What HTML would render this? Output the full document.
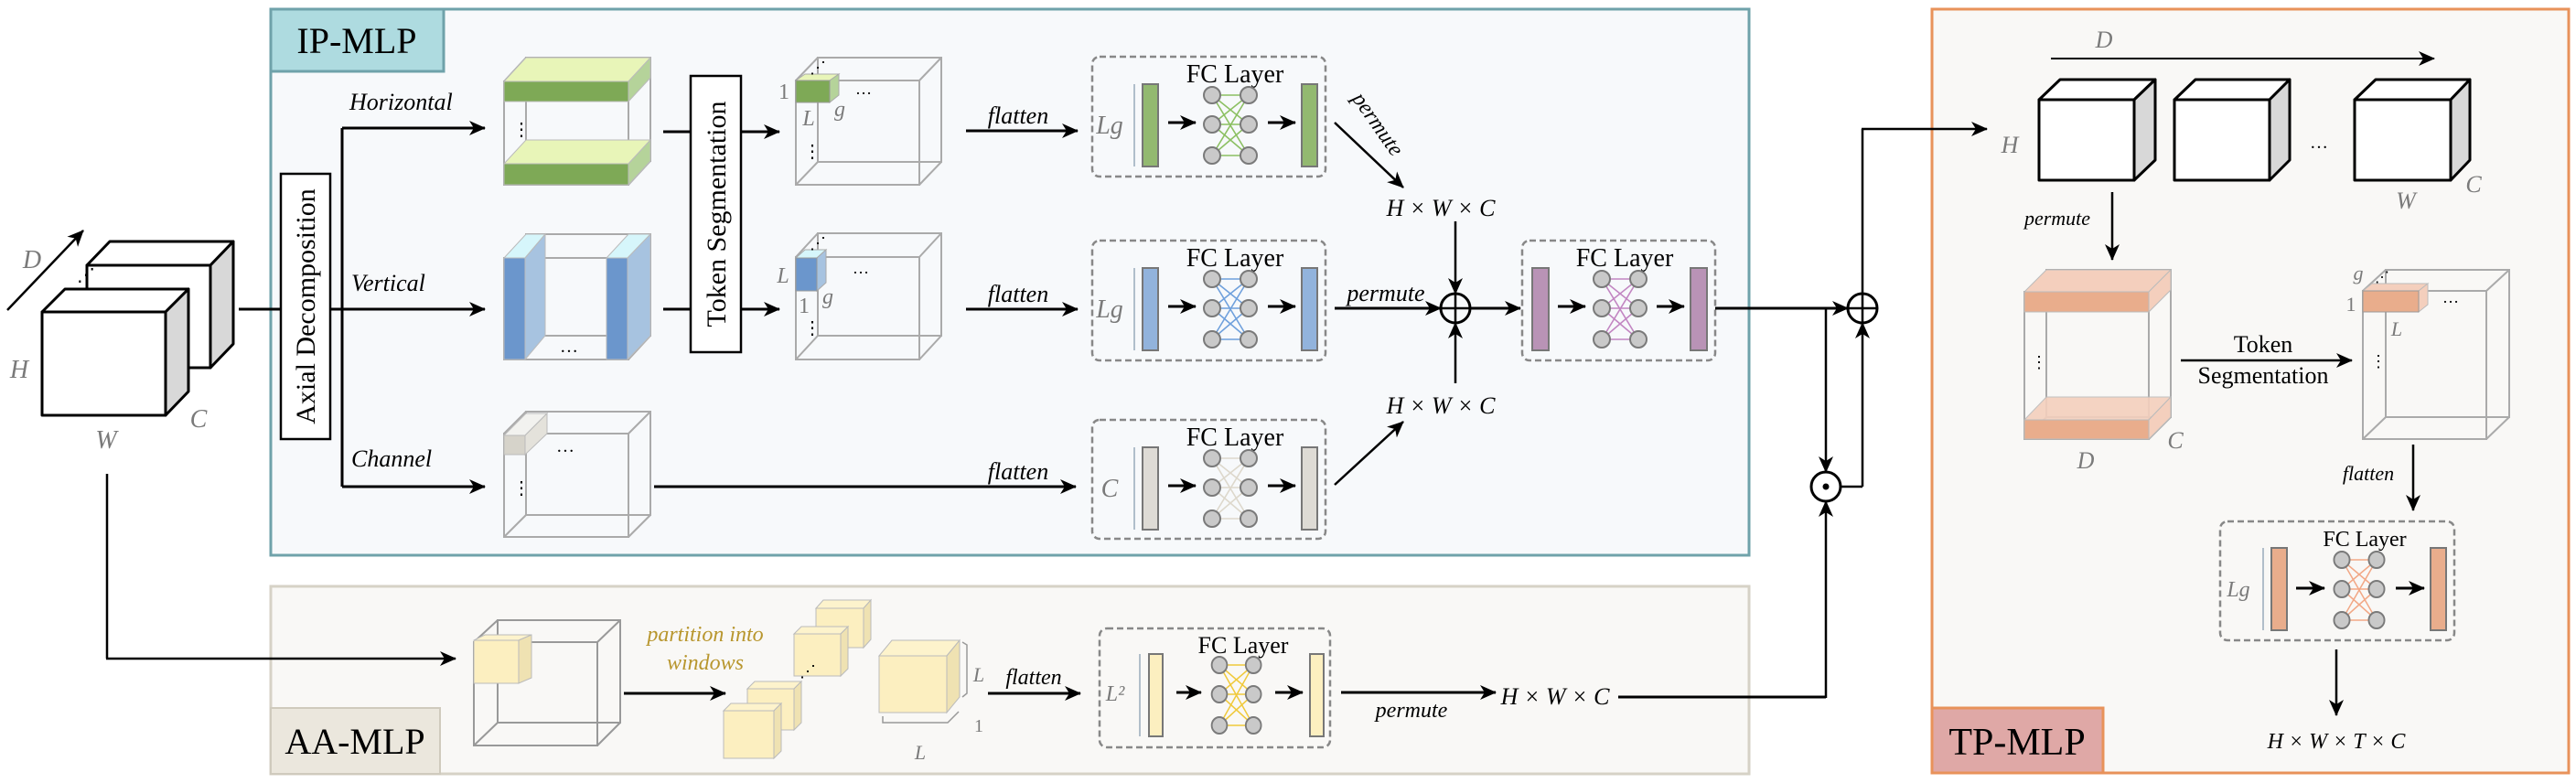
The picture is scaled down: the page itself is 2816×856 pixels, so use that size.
<!DOCTYPE html>
<html><head><meta charset="utf-8"><style>
html,body{margin:0;padding:0;background:#fff}
svg{display:block}
text{font-family:"Liberation Serif",serif}
.it{font-style:italic}
.g{fill:#7a7a7a}
</style></head><body>
<svg width="2816" height="856" viewBox="0 0 2816 856" xmlns="http://www.w3.org/2000/svg">
<defs>
<marker id="a" markerUnits="userSpaceOnUse" markerWidth="20" markerHeight="20" refX="17" refY="10" orient="auto"><path d="M0,2 L18,10 L0,18 L5,10 z" fill="#000"/></marker>
<g id="net">
<g stroke="currentColor" stroke-width="1.6">
<line x1="0" y1="-32" x2="40" y2="-32"/><line x1="0" y1="-32" x2="40" y2="0"/><line x1="0" y1="-32" x2="40" y2="34"/>
<line x1="0" y1="0" x2="40" y2="-32"/><line x1="0" y1="0" x2="40" y2="0"/><line x1="0" y1="0" x2="40" y2="34"/>
<line x1="0" y1="34" x2="40" y2="-32"/><line x1="0" y1="34" x2="40" y2="0"/><line x1="0" y1="34" x2="40" y2="34"/>
</g>
<g fill="#c9c9c9" stroke="#7a7a7a" stroke-width="2">
<circle cx="0" cy="-32" r="9"/><circle cx="40" cy="-32" r="9"/><circle cx="0" cy="0" r="9"/><circle cx="40" cy="0" r="9"/><circle cx="0" cy="34" r="9"/><circle cx="40" cy="34" r="9"/>
</g>
</g>
</defs>

<!-- panels -->
<rect x="296" y="10" width="1616" height="597" fill="#f7f9fb" stroke="#6fa2aa" stroke-width="3"/>
<rect x="296" y="10" width="189" height="68" fill="#aedbe0" stroke="#6fa2aa" stroke-width="3"/>
<text x="390" y="58" font-size="40" text-anchor="middle">IP-MLP</text>

<rect x="296" y="641" width="1616" height="205" fill="#f9f8f6" stroke="#d6d2c6" stroke-width="3"/>
<rect x="296" y="774" width="185" height="72" fill="#ebe7dd" stroke="#cfcabd" stroke-width="2"/>
<text x="388" y="824" font-size="40" text-anchor="middle">AA-MLP</text>

<rect x="2112" y="10" width="696" height="835" fill="#f9f8f6" stroke="#e8925a" stroke-width="3"/>
<rect x="2112" y="774" width="187" height="71" fill="#dfa8a6" stroke="#e8925a" stroke-width="3"/>
<text x="2205" y="825" font-size="42" text-anchor="middle">TP-MLP</text>

<!-- input cubes -->
<g stroke="#000" stroke-width="3" stroke-linejoin="round">
<polygon points="95,290 120,264 255,264 230,290" fill="#fff"/>
<polygon points="230,290 255,264 255,376 230,402" fill="#d8d8d8"/>
<rect x="95" y="290" width="135" height="112" fill="#fff"/>
<polygon points="46,341 71,316 206,316 181,341" fill="#fff"/>
<polygon points="181,341 206,316 206,428 181,454" fill="#d8d8d8"/>
<rect x="46" y="341" width="135" height="113" fill="#fff"/>
</g>
<line x1="8" y1="339" x2="91" y2="252" stroke="#000" stroke-width="2.5" marker-end="url(#a)"/>
<text x="84" y="307" font-size="20">⋰</text>
<text x="35" y="293" font-size="28" class="it g" text-anchor="middle">D</text>
<text x="21" y="413" font-size="28" class="it g" text-anchor="middle">H</text>
<text x="217" y="467" font-size="28" class="it g" text-anchor="middle">C</text>
<text x="116" y="490" font-size="28" class="it g" text-anchor="middle">W</text>

<!-- axial decomposition -->
<line x1="261" y1="338" x2="307" y2="338" stroke="#000" stroke-width="3"/>
<rect x="307" y="190" width="54" height="290" fill="#fff" stroke="#000" stroke-width="2.5"/>
<text transform="translate(344,335) rotate(-90)" font-size="30" text-anchor="middle">Axial Decomposition</text>
<path d="M361,338 H374 M374,140 V532" stroke="#000" stroke-width="3" fill="none"/>
<line x1="374" y1="140" x2="530" y2="140" stroke="#000" stroke-width="3" marker-end="url(#a)"/>
<line x1="374" y1="338" x2="530" y2="338" stroke="#000" stroke-width="3" marker-end="url(#a)"/>
<line x1="374" y1="532" x2="530" y2="532" stroke="#000" stroke-width="3" marker-end="url(#a)"/>
<text x="382" y="120" font-size="26" class="it">Horizontal</text>
<text x="384" y="318" font-size="26" class="it">Vertical</text>
<text x="384" y="510" font-size="26" class="it">Channel</text>

<!-- horizontal cube -->
<g stroke="#aaa" stroke-width="2" fill="none">
<rect x="551" y="89" width="136" height="113"/><rect x="575" y="63" width="136" height="113"/>
<line x1="551" y1="89" x2="575" y2="63"/><line x1="687" y1="89" x2="711" y2="63"/><line x1="551" y1="202" x2="575" y2="176"/><line x1="687" y1="202" x2="711" y2="176"/>
</g>
<g stroke="#bbb" stroke-width="1">
<polygon points="551,89 575,63 711,63 687,89" fill="#e8f5b8"/>
<polygon points="687,89 711,63 711,85 687,111" fill="#b5d39a"/>
<rect x="551" y="89" width="136" height="22" fill="#7ea956"/>
<polygon points="551,179 575,153 711,153 687,179" fill="#e8f5b8"/>
<polygon points="687,179 711,153 711,176 687,202" fill="#b5d39a"/>
<rect x="551" y="179" width="136" height="23" fill="#7ea956"/>
</g>
<text x="560" y="148" font-size="20">⋮</text>

<!-- vertical cube -->
<g stroke="#aaa" stroke-width="2" fill="none">
<rect x="551" y="282" width="136" height="111"/><rect x="575" y="256" width="136" height="111"/>
<line x1="551" y1="393" x2="575" y2="367"/><line x1="687" y1="393" x2="711" y2="367"/>
</g>
<g stroke="#bbb" stroke-width="1">
<polygon points="551,282 575,256 596,256 574,282" fill="#d6f6fb"/>
<polygon points="574,282 596,256 596,367 574,393" fill="#a7c3e0"/>
<rect x="551" y="282" width="23" height="111" fill="#6b96cc"/>
<polygon points="663,282 687,256 711,256 686,282" fill="#d6f6fb"/>
<polygon points="686,282 711,256 711,367 686,393" fill="#a7c3e0"/>
<rect x="663" y="282" width="23" height="111" fill="#6b96cc"/>
</g>
<text x="612" y="385" font-size="20">…</text>

<!-- channel cube -->
<g stroke="#aaa" stroke-width="2" fill="none">
<rect x="551" y="474" width="136" height="113"/><rect x="575" y="450" width="136" height="113"/>
<line x1="551" y1="474" x2="575" y2="450"/><line x1="687" y1="474" x2="711" y2="450"/><line x1="551" y1="587" x2="575" y2="563"/><line x1="687" y1="587" x2="711" y2="563"/>
</g>
<polygon points="551,476 575,452 598,452 574,476" fill="#f2f2ef" stroke="#bbb"/>
<polygon points="574,476 598,452 598,474 574,497" fill="#e4e2db" stroke="#bbb"/>
<rect x="551" y="476" width="23" height="21" fill="#d6d3ca" stroke="#bbb"/>
<text x="608" y="494" font-size="20">…</text>
<text x="560" y="540" font-size="20">⋮</text>

<!-- token segmentation -->
<line x1="725" y1="144" x2="755" y2="144" stroke="#000" stroke-width="3"/>
<line x1="725" y1="338" x2="755" y2="338" stroke="#000" stroke-width="3"/>
<rect x="755" y="83" width="55" height="302" fill="#fff" stroke="#000" stroke-width="2.5"/>
<text transform="translate(793,234) rotate(-90)" font-size="30" text-anchor="middle">Token Segmentation</text>
<line x1="810" y1="144" x2="852" y2="144" stroke="#000" stroke-width="3" marker-end="url(#a)"/>
<line x1="810" y1="338" x2="852" y2="338" stroke="#000" stroke-width="3" marker-end="url(#a)"/>

<!-- token cubes -->
<g stroke="#aaa" stroke-width="2" fill="none">
<rect x="870" y="88" width="135" height="114"/><rect x="894" y="63" width="135" height="114"/>
<line x1="870" y1="88" x2="894" y2="63"/><line x1="1005" y1="88" x2="1029" y2="63"/><line x1="870" y1="202" x2="894" y2="177"/><line x1="1005" y1="202" x2="1029" y2="177"/>
<rect x="870" y="281" width="135" height="112"/><rect x="894" y="255" width="135" height="112"/>
<line x1="870" y1="281" x2="894" y2="255"/><line x1="1005" y1="281" x2="1029" y2="255"/><line x1="870" y1="393" x2="894" y2="367"/><line x1="1005" y1="393" x2="1029" y2="367"/>
</g>
<polygon points="870,88 880,81 917,81 907,88" fill="#e8f5b8" stroke="#aaa"/>
<polygon points="907,88 917,81 917,104 907,112" fill="#b5d39a" stroke="#aaa"/>
<rect x="870" y="88" width="37" height="24" fill="#7ea956" stroke="#999"/>
<polygon points="870,282 880,273 903,273 893,282" fill="#d6f6fb" stroke="#aaa"/>
<polygon points="893,282 903,273 903,309 893,318" fill="#a7c3e0" stroke="#aaa"/>
<rect x="870" y="282" width="23" height="36" fill="#6b96cc" stroke="#999"/>
<text x="885" y="80" font-size="18">⋰</text><text x="885" y="272" font-size="18">⋰</text>
<text x="857" y="108" font-size="24" class="g" text-anchor="middle">1</text>
<text x="884" y="137" font-size="24" class="it g" text-anchor="middle">L</text>
<text x="918" y="127" font-size="24" class="it g" text-anchor="middle">g</text>
<text x="944" y="103" font-size="18" text-anchor="middle">…</text>
<text x="878" y="172" font-size="20">⋮</text>
<text x="856" y="309" font-size="24" class="it g" text-anchor="middle">L</text>
<text x="879" y="342" font-size="24" class="g" text-anchor="middle">1</text>
<text x="905" y="332" font-size="24" class="it g" text-anchor="middle">g</text>
<text x="941" y="299" font-size="18" text-anchor="middle">…</text>
<text x="878" y="365" font-size="20">⋮</text>

<!-- flatten arrows -->
<g stroke="#000" stroke-width="3">
<line x1="1056" y1="143" x2="1178" y2="143" marker-end="url(#a)"/>
<line x1="1056" y1="338" x2="1178" y2="338" marker-end="url(#a)"/>
<line x1="715" y1="532" x2="1176" y2="532" marker-end="url(#a)"/>
</g>
<text x="1113" y="135" font-size="26" class="it" text-anchor="middle">flatten</text>
<text x="1113" y="330" font-size="26" class="it" text-anchor="middle">flatten</text>
<text x="1113" y="524" font-size="26" class="it" text-anchor="middle">flatten</text>

<!-- FC boxes IP -->
<g id="fc1">
<rect x="1194" y="62" width="255" height="131" rx="8" fill="none" stroke="#888" stroke-width="2.5" stroke-dasharray="7,4"/>
<text x="1350" y="90" font-size="28" text-anchor="middle">FC Layer</text>
<text x="1213" y="146" font-size="28" class="it g" text-anchor="middle">Lg</text>
<line x1="1240" y1="92" x2="1240" y2="182" stroke="#9ab" stroke-width="1.5"/>
<rect x="1249" y="92" width="17" height="90" fill="#93b970" stroke="#777" stroke-width="2"/>
<rect x="1423" y="92" width="17" height="90" fill="#93b970" stroke="#777" stroke-width="2"/>
<line x1="1277" y1="134" x2="1307" y2="134" stroke="#000" stroke-width="3" marker-end="url(#a)"/>
<line x1="1386" y1="134" x2="1416" y2="134" stroke="#000" stroke-width="3" marker-end="url(#a)"/>
<use href="#net" x="1325" y="136" style="color:#8cc063"/>
</g>
<rect x="1194" y="263" width="255" height="131" rx="8" fill="none" stroke="#888" stroke-width="2.5" stroke-dasharray="7,4"/>
<text x="1350" y="291" font-size="28" text-anchor="middle">FC Layer</text>
<text x="1213" y="347" font-size="28" class="it g" text-anchor="middle">Lg</text>
<line x1="1240" y1="293" x2="1240" y2="383" stroke="#9ab" stroke-width="1.5"/>
<rect x="1249" y="293" width="17" height="90" fill="#92b3dc" stroke="#777" stroke-width="2"/>
<rect x="1423" y="293" width="17" height="90" fill="#92b3dc" stroke="#777" stroke-width="2"/>
<line x1="1277" y1="335" x2="1307" y2="335" stroke="#000" stroke-width="3" marker-end="url(#a)"/>
<line x1="1386" y1="335" x2="1416" y2="335" stroke="#000" stroke-width="3" marker-end="url(#a)"/>
<use href="#net" x="1325" y="337" style="color:#6fa0dc"/>

<rect x="1194" y="459" width="255" height="130" rx="8" fill="none" stroke="#888" stroke-width="2.5" stroke-dasharray="7,4"/>
<text x="1350" y="487" font-size="28" text-anchor="middle">FC Layer</text>
<text x="1213" y="543" font-size="28" class="it g" text-anchor="middle">C</text>
<line x1="1240" y1="489" x2="1240" y2="579" stroke="#9ab" stroke-width="1.5"/>
<rect x="1249" y="489" width="17" height="90" fill="#dedbd5" stroke="#777" stroke-width="2"/>
<rect x="1423" y="489" width="17" height="90" fill="#dedbd5" stroke="#777" stroke-width="2"/>
<line x1="1277" y1="531" x2="1307" y2="531" stroke="#000" stroke-width="3" marker-end="url(#a)"/>
<line x1="1386" y1="531" x2="1416" y2="531" stroke="#000" stroke-width="3" marker-end="url(#a)"/>
<use href="#net" x="1325" y="533" style="color:#ddd8cc"/>

<!-- permute & sum -->
<line x1="1459" y1="134" x2="1534" y2="205" stroke="#000" stroke-width="2.5" marker-end="url(#a)"/>
<text transform="translate(1500,140) rotate(55)" font-size="24" class="it" text-anchor="middle">permute</text>
<text x="1575" y="236" font-size="26" class="it" text-anchor="middle">H × W × C</text>
<text x="1575" y="452" font-size="26" class="it" text-anchor="middle">H × W × C</text>
<line x1="1459" y1="530" x2="1534" y2="461" stroke="#000" stroke-width="2.5" marker-end="url(#a)"/>
<line x1="1459" y1="337" x2="1575" y2="337" stroke="#000" stroke-width="3" marker-end="url(#a)"/>
<text x="1515" y="329" font-size="26" class="it" text-anchor="middle">permute</text>
<line x1="1591" y1="242" x2="1591" y2="321" stroke="#000" stroke-width="2.5" marker-end="url(#a)"/>
<line x1="1591" y1="419" x2="1591" y2="353" stroke="#000" stroke-width="2.5" marker-end="url(#a)"/>
<circle cx="1591" cy="337" r="16" fill="none" stroke="#000" stroke-width="3"/>
<path d="M1575,337 H1607 M1591,321 V353" stroke="#000" stroke-width="2.5"/>
<line x1="1607" y1="337" x2="1662" y2="337" stroke="#000" stroke-width="3" marker-end="url(#a)"/>

<rect x="1664" y="263" width="211" height="131" rx="8" fill="none" stroke="#888" stroke-width="2.5" stroke-dasharray="7,4"/>
<text x="1776" y="291" font-size="28" text-anchor="middle">FC Layer</text>
<rect x="1675" y="293" width="18" height="90" fill="#b993b6" stroke="#777" stroke-width="2"/>
<rect x="1848" y="293" width="18" height="90" fill="#b993b6" stroke="#777" stroke-width="2"/>
<line x1="1703" y1="335" x2="1733" y2="335" stroke="#000" stroke-width="3" marker-end="url(#a)"/>
<line x1="1811" y1="335" x2="1841" y2="335" stroke="#000" stroke-width="3" marker-end="url(#a)"/>
<use href="#net" x="1751" y="337" style="color:#c286c2"/>

<!-- residual -->
<line x1="1875" y1="337" x2="2020" y2="337" stroke="#000" stroke-width="3" marker-end="url(#a)"/>
<line x1="1996" y1="337" x2="1996" y2="516" stroke="#000" stroke-width="2.5" marker-end="url(#a)"/>
<circle cx="2036" cy="337" r="16" fill="#fff" stroke="#000" stroke-width="3"/>
<path d="M2020,337 H2052 M2036,321 V353" stroke="#000" stroke-width="2.5"/>
<circle cx="1996" cy="532" r="16" fill="#fff" stroke="#000" stroke-width="3"/>
<circle cx="1996" cy="532" r="3.5" fill="#000"/>
<path d="M2012,532 H2036" stroke="#000" stroke-width="2.5" fill="none"/>
<line x1="2036" y1="532" x2="2036" y2="353" stroke="#000" stroke-width="2.5" marker-end="url(#a)"/>
<path d="M2036,321 V141" stroke="#000" stroke-width="2.5" fill="none"/>
<line x1="2035" y1="141" x2="2172" y2="141" stroke="#000" stroke-width="2.5" marker-end="url(#a)"/>

<!-- AA-MLP row -->
<path d="M117,518 V720" stroke="#000" stroke-width="2.5" fill="none"/>
<line x1="116" y1="720" x2="498" y2="720" stroke="#000" stroke-width="2.5" marker-end="url(#a)"/>
<g stroke="#999" stroke-width="2" fill="none">
<rect x="518" y="702" width="135" height="113"/><rect x="544" y="678" width="134" height="112"/>
<line x1="518" y1="702" x2="544" y2="678"/><line x1="653" y1="702" x2="678" y2="678"/><line x1="518" y1="815" x2="544" y2="790"/><line x1="653" y1="815" x2="678" y2="790"/>
</g>
<polygon points="518,700 530,694 581,694 567,700" fill="#fdf3cc" stroke="#bbb"/>
<polygon points="567,700 581,694 581,741 567,747" fill="#efe2b2" stroke="#bbb"/>
<rect x="518" y="700" width="49" height="47" fill="#fcefc0" stroke="#bbb"/>
<line x1="682" y1="758" x2="793" y2="758" stroke="#000" stroke-width="3" marker-end="url(#a)"/>
<text x="771" y="701" font-size="24" class="it" fill="#b8962e" text-anchor="middle">partition into</text>
<text x="771" y="732" font-size="24" class="it" fill="#b8962e" text-anchor="middle">windows</text>
<g stroke="#bbb" stroke-width="1">
<polygon points="892,665 900,656 952,656 944,665" fill="#fdf3cc"/><polygon points="944,665 952,656 952,699 944,708" fill="#efe2b2"/><rect x="892" y="665" width="52" height="43" fill="#fcefc0"/>
<polygon points="868,693 876,685 927,685 919,693" fill="#fdf3cc"/><polygon points="919,693 927,685 927,731 919,739" fill="#efe2b2"/><rect x="868" y="693" width="51" height="46" fill="#fcefc0"/>
<polygon points="817,753 825,745 876,745 868,753" fill="#fdf3cc"/><polygon points="868,753 876,745 876,790 868,798" fill="#efe2b2"/><rect x="817" y="753" width="51" height="45" fill="#fcefc0"/>
<polygon points="791,777 799,769 854,769 846,777" fill="#fdf3cc"/><polygon points="846,777 854,769 854,821 846,829" fill="#efe2b2"/><rect x="791" y="777" width="55" height="52" fill="#fcefc0"/>
<polygon points="961,717 975,700 1049,700 1035,717" fill="#fdf3cc"/><polygon points="1035,717 1049,700 1049,762 1035,779" fill="#efe2b2"/><rect x="961" y="717" width="74" height="62" fill="#fcefc0"/>
</g>
<text x="874" y="740" font-size="18">⋰</text>
<path d="M1052,702 L1057,705 V758 L1052,762" stroke="#999" fill="none" stroke-width="1.5"/>
<path d="M965,783 V790 H1036 L1048,778" stroke="#999" fill="none" stroke-width="1.5"/>
<text x="1070" y="745" font-size="22" class="it g" text-anchor="middle">L</text>
<text x="1070" y="800" font-size="20" class="g" text-anchor="middle">1</text>
<text x="1006" y="830" font-size="22" class="it g" text-anchor="middle">L</text>
<line x1="1080" y1="758" x2="1181" y2="758" stroke="#000" stroke-width="3" marker-end="url(#a)"/>
<text x="1130" y="748" font-size="24" class="it" text-anchor="middle">flatten</text>
<rect x="1202" y="687" width="252" height="130" rx="8" fill="none" stroke="#888" stroke-width="2.5" stroke-dasharray="7,4"/>
<text x="1359" y="714" font-size="26" text-anchor="middle">FC Layer</text>
<text x="1219" y="766" font-size="24" class="it g" text-anchor="middle">L²</text>
<line x1="1246" y1="715" x2="1246" y2="805" stroke="#9ab" stroke-width="1.5"/>
<rect x="1256" y="715" width="15" height="90" fill="#fcefc0" stroke="#777" stroke-width="2"/>
<rect x="1432" y="715" width="15" height="90" fill="#fcefc0" stroke="#777" stroke-width="2"/>
<line x1="1286" y1="757" x2="1313" y2="757" stroke="#000" stroke-width="3" marker-end="url(#a)"/>
<line x1="1394" y1="757" x2="1424" y2="757" stroke="#000" stroke-width="3" marker-end="url(#a)"/>
<g transform="translate(1333,759) scale(0.93,1)"><use href="#net" style="color:#f0c93a"/></g>
<line x1="1466" y1="757" x2="1635" y2="757" stroke="#000" stroke-width="3" marker-end="url(#a)"/>
<text x="1543" y="784" font-size="24" class="it" text-anchor="middle">permute</text>
<text x="1700" y="770" font-size="26" class="it" text-anchor="middle">H × W × C</text>
<path d="M1769,762 H1996" stroke="#000" stroke-width="3" fill="none"/>
<line x1="1996" y1="763" x2="1996" y2="548" stroke="#000" stroke-width="2.5" marker-end="url(#a)"/>

<!-- TP-MLP -->
<line x1="2242" y1="64" x2="2661" y2="64" stroke="#000" stroke-width="2" marker-end="url(#a)"/>
<text x="2300" y="52" font-size="26" class="it g" text-anchor="middle">D</text>
<g stroke="#000" stroke-width="3" stroke-linejoin="round">
<polygon points="2229,109 2252,87 2356,87 2333,109" fill="#fff"/><polygon points="2333,109 2356,87 2356,175 2333,197" fill="#d8d8d8"/><rect x="2229" y="109" width="104" height="88" fill="#fff"/>
<polygon points="2377,109 2400,87 2503,87 2481,109" fill="#fff"/><polygon points="2481,109 2503,87 2503,175 2481,197" fill="#d8d8d8"/><rect x="2377" y="109" width="104" height="88" fill="#fff"/>
<polygon points="2574,109 2597,87 2700,87 2679,109" fill="#fff"/><polygon points="2679,109 2700,87 2700,175 2679,197" fill="#d8d8d8"/><rect x="2574" y="109" width="105" height="88" fill="#fff"/>
</g>
<text x="2535" y="162" font-size="20" text-anchor="middle">…</text>
<text x="2197" y="167" font-size="26" class="it g" text-anchor="middle">H</text>
<text x="2704" y="210" font-size="26" class="it g" text-anchor="middle">C</text>
<text x="2630" y="228" font-size="26" class="it g" text-anchor="middle">W</text>
<line x1="2309" y1="210" x2="2309" y2="284" stroke="#000" stroke-width="2.5" marker-end="url(#a)"/>
<text x="2249" y="246" font-size="22" class="it" text-anchor="middle">permute</text>

<g stroke="#aaa" stroke-width="2" fill="none">
<rect x="2213" y="319" width="136" height="161"/><rect x="2237" y="295" width="136" height="161"/>
<line x1="2213" y1="480" x2="2237" y2="456"/><line x1="2349" y1="480" x2="2373" y2="456"/>
</g>
<g stroke="#bbb" stroke-width="1">
<polygon points="2213,319 2237,295 2373,295 2349,319" fill="#f4cfbd"/><polygon points="2349,319 2373,295 2373,317 2349,341" fill="#f4cfbd"/><rect x="2213" y="319" width="136" height="22" fill="#e9ad8c"/>
<polygon points="2213,459 2237,434 2373,434 2349,459" fill="#f4cfbd" opacity="0.9"/><polygon points="2349,459 2373,434 2373,456 2349,480" fill="#f4cfbd"/><rect x="2213" y="459" width="136" height="21" fill="#e9ad8c"/>
</g>
<text x="2220" y="402" font-size="18">⋮</text>
<text x="2280" y="512" font-size="26" class="it g" text-anchor="middle">D</text>
<text x="2378" y="490" font-size="26" class="it g" text-anchor="middle">C</text>
<line x1="2384" y1="394" x2="2571" y2="394" stroke="#000" stroke-width="2.5" marker-end="url(#a)"/>
<text x="2474" y="385" font-size="26" text-anchor="middle">Token</text>
<text x="2474" y="419" font-size="26" text-anchor="middle">Segmentation</text>

<g stroke="#aaa" stroke-width="2" fill="none">
<rect x="2583" y="318" width="135" height="162"/><rect x="2608" y="295" width="135" height="161"/>
<line x1="2583" y1="318" x2="2608" y2="295"/><line x1="2718" y1="318" x2="2743" y2="295"/><line x1="2583" y1="480" x2="2608" y2="456"/><line x1="2718" y1="480" x2="2743" y2="456"/>
</g>
<polygon points="2583,318 2593,310 2654,310 2644,318" fill="#f4cfbd" stroke="#bbb"/>
<polygon points="2644,318 2654,310 2654,333 2644,341" fill="#f4cfbd" stroke="#bbb"/>
<rect x="2583" y="318" width="61" height="23" fill="#e9ad8c" stroke="#999"/>
<text x="2596" y="308" font-size="16">⋰</text>
<text x="2578" y="306" font-size="22" class="it g" text-anchor="middle">g</text>
<text x="2570" y="340" font-size="22" class="g" text-anchor="middle">1</text>
<text x="2620" y="367" font-size="22" class="it g" text-anchor="middle">L</text>
<text x="2679" y="331" font-size="18" text-anchor="middle">…</text>
<text x="2591" y="401" font-size="18">⋮</text>
<line x1="2638" y1="486" x2="2638" y2="558" stroke="#000" stroke-width="2.5" marker-end="url(#a)"/>
<text x="2589" y="525" font-size="22" class="it" text-anchor="middle">flatten</text>
<rect x="2427" y="570" width="256" height="130" rx="8" fill="none" stroke="#888" stroke-width="2.5" stroke-dasharray="7,4"/>
<text x="2585" y="597" font-size="24" text-anchor="middle">FC Layer</text>
<text x="2447" y="652" font-size="24" class="it g" text-anchor="middle">Lg</text>
<line x1="2474" y1="599" x2="2474" y2="689" stroke="#9ab" stroke-width="1.5"/>
<rect x="2483" y="599" width="17" height="90" fill="#e9ad8c" stroke="#777" stroke-width="2"/>
<rect x="2657" y="599" width="17" height="90" fill="#e9ad8c" stroke="#777" stroke-width="2"/>
<line x1="2510" y1="643" x2="2541" y2="643" stroke="#000" stroke-width="3" marker-end="url(#a)"/>
<line x1="2619" y1="643" x2="2650" y2="643" stroke="#000" stroke-width="3" marker-end="url(#a)"/>
<g transform="translate(2560,644) scale(0.95,1)"><use href="#net" style="color:#f2a886"/></g>
<line x1="2554" y1="710" x2="2554" y2="782" stroke="#000" stroke-width="2.5" marker-end="url(#a)"/>
<text x="2554" y="818" font-size="24" class="it" text-anchor="middle">H × W × T × C</text>
</svg>
</body></html>
